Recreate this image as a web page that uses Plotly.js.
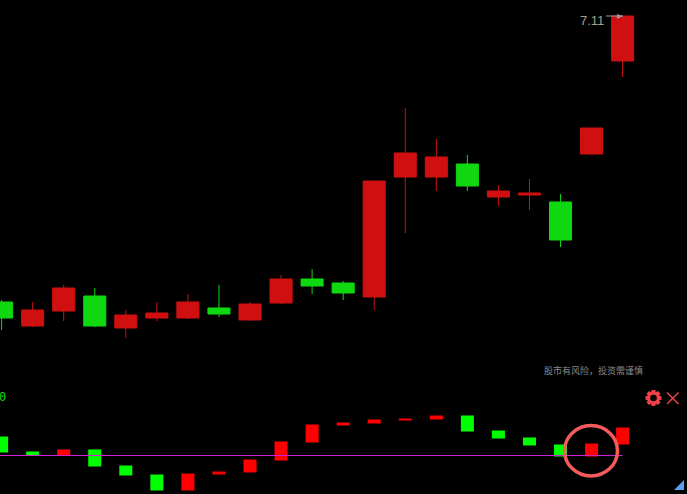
<!DOCTYPE html>
<html><head><meta charset="utf-8">
<script src="https://cdn.plot.ly/plotly-3.0.1.min.js"></script>
<style>html,body{margin:0;padding:0;background:#000}</style></head>
<body><div id="chart" style="width:687px;height:494px"></div>
<script>
const idx = [0,1,2,3,4,5,6,7,8,9,10,11,12,13,14,15,16,17,18,19,20];
const open  = [5.68,5.56,5.635,5.71,5.55,5.60,5.60,5.65,5.59,5.675,5.795,5.775,5.705,6.305,6.305,6.37,6.205,6.215,6.18,6.42,6.885];
const close = [5.60,5.64,5.75,5.56,5.615,5.625,5.68,5.62,5.67,5.795,5.76,5.725,6.285,6.425,6.405,6.26,6.235,6.225,5.99,6.55,7.11];
const high  = [5.69,5.68,5.765,5.75,5.64,5.68,5.72,5.765,5.68,5.815,5.845,5.785,6.285,6.65,6.495,6.415,6.265,6.295,6.22,6.55,7.11];
const low   = [5.54,5.555,5.585,5.555,5.50,5.585,5.595,5.605,5.585,5.67,5.72,5.69,5.64,6.025,6.235,6.235,6.16,6.14,5.955,6.42,6.805];
const subHigh = [.38,.08,.12,.12,-.20,-.38,-.36,-.32,-.08,.28,.62,.66,.72,.74,.80,.80,.50,.36,.22,.24,.56];
const subLow  = [.06,0,0,-.22,-.40,-.70,-.70,-.38,-.34,-.10,.26,.60,.64,.70,.72,.48,.34,.20,-.02,-.02,.22];
const subDown = [1,1,0,1,1,1,0,0,0,0,0,0,0,0,0,1,1,1,1,0,0];
const RED='#d01010', GREEN='#10d810', SUBRED='#ff0000', SUBGREEN='#00ff00', ICON='#f04048';
const W=687,H=494, px=x=>x/W, py=y=>1-y/H;
const P=(pts,close)=>'M'+pts.map(p=>px(p[0])+','+py(p[1])).join('L')+(close?'Z':'');
// gear icon outline
const gearPts=[];
for(let k=0;k<8;k++){
  const a=k*Math.PI/4;
  [[-0.39,6.2],[-0.22,8.2],[0.22,8.2],[0.39,6.2]].forEach(t=>gearPts.push([653.5+t[1]*Math.cos(a+t[0]),398+t[1]*Math.sin(a+t[0])]));
}
const traces=[
 {type:'candlestick',x:idx,open:open,high:high,low:low,close:close,xaxis:'x',yaxis:'y',
  increasing:{line:{color:RED,width:1},fillcolor:RED},decreasing:{line:{color:GREEN,width:1},fillcolor:GREEN},
  whiskerwidth:0,hoverinfo:'skip',showlegend:false},
 {type:'bar',x:idx,base:subLow,y:subHigh.map((v,i)=>v-subLow[i]),xaxis:'x',yaxis:'y2',width:0.42,
  marker:{color:subDown.map(d=>d?SUBGREEN:SUBRED),line:{width:0}},hoverinfo:'skip',showlegend:false},
 {type:'scatter',mode:'lines',x:[-1,20],y:[0,0],xaxis:'x',yaxis:'y2',line:{color:'#d020d0',width:1},hoverinfo:'skip',showlegend:false}
];
const note=(x,y,text,font)=>({xref:'paper',yref:'paper',x:px(x),y:py(y),xanchor:'center',yanchor:'middle',text:text,showarrow:false,font:font});
const layout={width:W,height:H,margin:{l:0,r:0,t:0,b:0},paper_bgcolor:'#000',plot_bgcolor:'#000',showlegend:false,boxgap:0.29,boxgroupgap:0,
 xaxis:{range:[-0.0515,22.073],visible:false,fixedrange:true,rangeslider:{visible:false}},
 yaxis:{domain:[py(400),1],range:[5.19,7.19],visible:false,fixedrange:true},
 yaxis2:{domain:[0,py(400)],range:[-0.77,1.11],visible:false,fixedrange:true},
 annotations:[
  note(592,20.5,'7.11',{family:'Liberation Sans',size:13,color:'#9aa58a'}),
  note(593.5,370,'股市有风险，投资需谨慎',{family:'Noto Sans CJK SC',size:9,color:'#8a8a8a'}),
  note(2.5,396.5,'0',{family:'DejaVu Sans Mono',size:12,color:'#10d810'})
 ],
 shapes:[
  {type:'path',xref:'paper',yref:'paper',path:P([[606,16],[623,16]]),line:{color:'#9a9a9a',width:1}},
  {type:'path',xref:'paper',yref:'paper',path:P([[617,14],[623,16],[617,19]],true),fillcolor:'#9a9a9a',line:{width:0}},
  {type:'circle',xref:'paper',yref:'paper',x0:px(564.5),x1:px(617.5),y0:py(476),y1:py(425.5),line:{color:'#f45c5c',width:3.5},fillcolor:'rgba(0,0,0,0)'},
  {type:'path',xref:'paper',yref:'paper',path:P(gearPts,true),fillcolor:ICON,line:{width:0}},
  {type:'circle',xref:'paper',yref:'paper',x0:px(650.2),x1:px(656.8),y0:py(401.3),y1:py(394.7),fillcolor:'#000',line:{width:0}},
  {type:'path',xref:'paper',yref:'paper',path:P([[667,392.5],[678.5,404]]),line:{color:ICON,width:1.5}},
  {type:'path',xref:'paper',yref:'paper',path:P([[678.5,392.5],[667,404]]),line:{color:ICON,width:1.5}},
  {type:'path',xref:'paper',yref:'paper',path:P([[674,490],[684,480],[684,490]],true),fillcolor:'#5a9ff5',line:{width:0}}
 ]
};
Plotly.newPlot('chart',traces,layout,{displayModeBar:false,staticPlot:true});
</script></body></html>
